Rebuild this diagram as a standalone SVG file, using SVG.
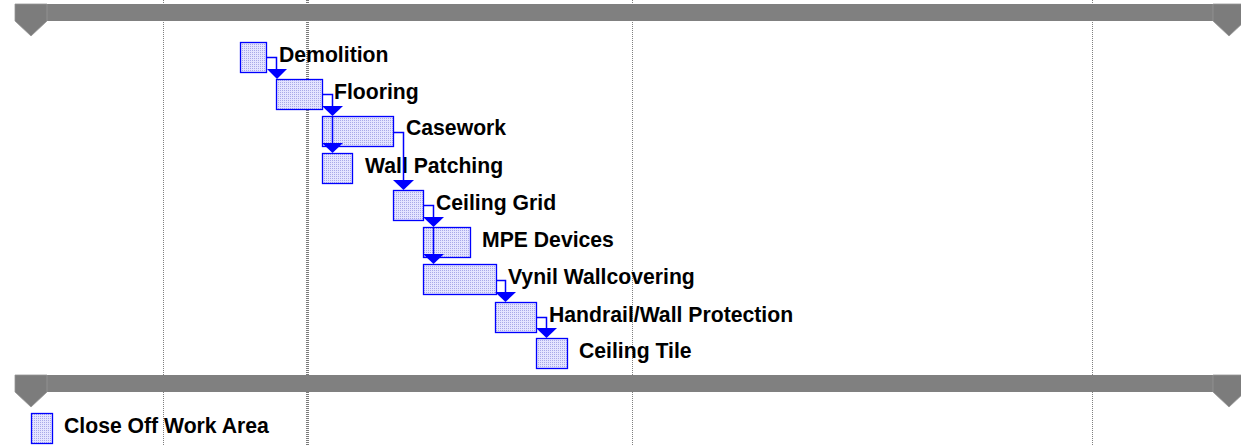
<svg xmlns="http://www.w3.org/2000/svg" width="1241" height="445" viewBox="0 0 1241 445">
<defs>
<pattern id="dots" width="2" height="2" patternUnits="userSpaceOnUse">
<rect width="2" height="2" fill="#e4e4ff"/>
<rect width="1" height="1" fill="#a8a8e8"/>
</pattern>
<style>
.grid{stroke:#808080;stroke-width:1;stroke-dasharray:1 1;fill:none}
.gridb{stroke:#7a7a7a;stroke-width:3;stroke-dasharray:1 1;fill:none}
.bar{fill:#808080}
.mk{fill:#7c7c7c;stroke:#959595;stroke-width:0.8}
.task{fill:url(#dots);stroke:#0000ff;stroke-width:1.3}
.lbl{font-family:"Liberation Sans",Arial,sans-serif;font-weight:bold;font-size:21.2px;fill:#000}
.conn path{stroke:#0000ff;stroke-width:1.5;fill:none}
.conn polygon{fill:#0000ff}
</style>
</defs>
<rect width="1241" height="445" fill="#fff"/>
<g id="grid">
<line class="grid" x1="163.5" y1="0" x2="163.5" y2="445"/>
<line class="gridb" x1="307.5" y1="0" x2="307.5" y2="445"/>
<line class="grid" x1="632.5" y1="0" x2="632.5" y2="445"/>
<line class="grid" x1="1092.5" y1="0" x2="1092.5" y2="445"/>
</g>
<g id="top-bar">
<rect class="bar" x="15" y="4" width="1226" height="17"/>
<polygon class="mk" points="15,4 47,4 47,21 31,36 15,21"/>
<polygon class="mk" points="1213,4 1245,4 1245,21 1229,36 1213,21"/>
</g>
<g id="bottom-bar">
<rect class="bar" x="15" y="375" width="1226" height="17"/>
<polygon class="mk" points="15,375 47,375 47,392 31,407 15,392"/>
<polygon class="mk" points="1213,375 1245,375 1245,392 1229,407 1213,392"/>
</g>
<g id="demolition"><rect class="task" x="240.5" y="42.5" width="26" height="30"/><text class="lbl" x="279" y="62">Demolition</text></g>
<g id="flooring"><rect class="task" x="276.5" y="79.5" width="46" height="30"/><text class="lbl" x="334" y="99">Flooring</text></g>
<g id="casework"><rect class="task" x="322.5" y="116.5" width="71" height="30"/><text class="lbl" x="406" y="135">Casework</text></g>
<g id="wall-patching"><rect class="task" x="322.5" y="153.5" width="30" height="30"/><text class="lbl" x="365" y="173">Wall Patching</text></g>
<g id="ceiling-grid"><rect class="task" x="393.5" y="190.5" width="30" height="30"/><text class="lbl" x="436" y="210">Ceiling Grid</text></g>
<g id="mpe-devices"><rect class="task" x="423.5" y="227.5" width="47" height="30"/><text class="lbl" x="482" y="247">MPE Devices</text></g>
<g id="vynil-wallcovering"><rect class="task" x="423.5" y="264.5" width="73" height="30"/><text class="lbl" x="508" y="284">Vynil Wallcovering</text></g>
<g id="handrail"><rect class="task" x="495.5" y="302.5" width="41" height="30"/><text class="lbl" x="549" y="322">Handrail/Wall Protection</text></g>
<g id="ceiling-tile"><rect class="task" x="536.5" y="338.5" width="31" height="30"/><text class="lbl" x="579" y="358">Ceiling Tile</text></g>
<g id="legend"><rect class="task" x="31.5" y="413.5" width="21" height="30"/><text class="lbl" x="64" y="433">Close Off Work Area</text></g>
<g id="connectors" class="conn">
<path d="M266.5,57.5 H276.5 V69"/><polygon points="267,69 287,69 277,79"/>
<path d="M322.5,94.5 H332.5 V106"/><polygon points="322,106 343,106 332.5,116"/>
<path d="M332.5,116 V143"/><polygon points="322,143 343,143 332.5,153"/>
<path d="M393.5,132.5 H403.5 V180"/><polygon points="393,180 414,180 403.5,190"/>
<path d="M423.5,205.5 H433.5 V217"/><polygon points="423,217 444,217 433.5,227"/>
<path d="M433.5,227 V254"/><polygon points="423,254 444,254 433.5,264"/>
<path d="M496.5,280.5 H505.5 V292"/><polygon points="495,292 516,292 505.5,302"/>
<path d="M536.5,317.5 H546.5 V328"/><polygon points="536,328 557,328 546.5,338"/>
</g>
</svg>
